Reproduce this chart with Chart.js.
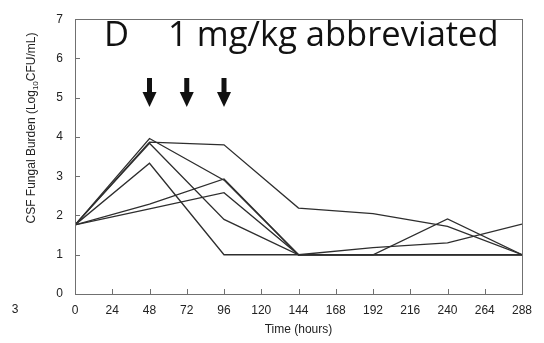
<!DOCTYPE html>
<html>
<head>
<meta charset="utf-8">
<script src="https://cdn.jsdelivr.net/npm/chart.js@4.4.0/dist/chart.umd.min.js"></script>
<style>
  html, body { margin: 0; padding: 0; background: #fff; }
  #wrap { width: 544px; height: 343px; position: relative; }
</style>
</head>
<body>
<div id="wrap"><canvas id="chart"></canvas></div>
<script>
// sampling times (hours)
const hours = [0, 48, 96, 144, 192, 240, 288];

// CSF fungal burden, log10 CFU/mL, one array per animal
const animal1 = [1.76, 3.87, 3.80, 2.19, 2.05, 1.72, 1.00];
const animal2 = [1.76, 3.96, 2.90, 1.00, 1.00, 1.91, 1.00];
const animal3 = [1.76, 3.84, 1.90, 1.00, 1.18, 1.30, 1.78];
const animal4 = [1.76, 3.33, 1.00, 1.00, 1.00, 1.00, 1.00];
const animal5 = [1.76, 2.29, 2.93, 1.00, 1.00, 1.00, 1.00];
const animal6 = [1.76, 2.17, 2.58, 1.00, 1.00, 1.00, 1.00];

// dosing times shown with arrows
const doseTimes = [48, 72, 96];

const xTicks = [0, 24, 48, 72, 96, 120, 144, 168, 192, 216, 240, 264, 288];
const yTicks = [0, 1, 2, 3, 4, 5, 6, 7];

const FONT = '"Liberation Sans", Arial, sans-serif';

function toPoints(values) {
    return hours.map((h, i) => ({ x: h, y: values[i] }));
}

const allSeries = [animal1, animal2, animal3, animal4, animal5, animal6];

// Frame, inward ticks, titles and dose arrows
const decorations = {
    id: 'decorations',
    afterDraw(chart) {
        const ctx = chart.ctx;
        const area = chart.chartArea;
        const xs = chart.scales.x;
        const ys = chart.scales.y;
        ctx.save();

        // box
        ctx.strokeStyle = '#707070';
        ctx.lineWidth = 1;
        ctx.strokeRect(Math.round(area.left) + 0.5, Math.round(area.top) + 0.5,
            Math.round(area.right - area.left), Math.round(area.bottom - area.top));

        // inward ticks
        ctx.beginPath();
        xTicks.forEach(v => {
            const px = Math.round(xs.getPixelForValue(v)) + 0.5;
            ctx.moveTo(px, area.bottom);
            ctx.lineTo(px, area.bottom - 5);
        });
        yTicks.forEach(v => {
            const py = Math.round(ys.getPixelForValue(v)) + 0.5;
            ctx.moveTo(area.left, py);
            ctx.lineTo(area.left + 5, py);
        });
        ctx.stroke();

        // panel title
        ctx.fillStyle = '#111';
        ctx.textBaseline = 'alphabetic';
        ctx.textAlign = 'left';
        ctx.font = '34.5px "Open Sans", "Noto Sans", sans-serif';
        ctx.fillText('D', 104, 46);
        ctx.fillText('1 mg/kg abbreviated', 168, 46);

        // dose arrows
        doseTimes.forEach(t => {
            const px = xs.getPixelForValue(t);
            ctx.fillRect(px - 2.5, 78, 5, 16);
            ctx.beginPath();
            ctx.moveTo(px - 7, 92);
            ctx.lineTo(px + 7, 92);
            ctx.lineTo(px, 107);
            ctx.closePath();
            ctx.fill();
        });

        // x title
        ctx.fillStyle = '#222';
        ctx.font = '12px ' + FONT;
        ctx.textAlign = 'center';
        ctx.textBaseline = 'middle';
        ctx.fillText('Time (hours)', (area.left + area.right) / 2, 330);

        // leftover label from neighbouring panel
        ctx.fillText('3', 15, 310);

        // y title with subscript
        ctx.translate(31, 128);
        ctx.rotate(-Math.PI / 2);
        const partA = 'CSF Fungal Burden (Log';
        const partB = '10';
        const partC = 'CFU/mL)';
        ctx.font = '12px ' + FONT;
        const wA = ctx.measureText(partA).width;
        const wC = ctx.measureText(partC).width;
        ctx.font = '8px ' + FONT;
        const wB = ctx.measureText(partB).width;
        const total = wA + wB + wC;
        let cx = -total / 2;
        ctx.textAlign = 'left';
        ctx.textBaseline = 'alphabetic';
        ctx.font = '12px ' + FONT;
        ctx.fillText(partA, cx, 4);
        cx += wA;
        ctx.font = '8px ' + FONT;
        ctx.fillText(partB, cx, 7);
        cx += wB;
        ctx.font = '12px ' + FONT;
        ctx.fillText(partC, cx, 4);

        ctx.restore();
    }
};

const chart = new Chart(document.getElementById('chart'), {
    type: 'line',
    data: {
        datasets: allSeries.map((s, i) => ({
            label: 'Animal ' + (i + 1),
            data: toPoints(s),
            borderColor: '#2e2e2e',
            borderWidth: 1.3,
            pointRadius: 0,
            tension: 0,
            fill: false
        }))
    },
    options: {
        responsive: true,
        maintainAspectRatio: false,
        animation: false,
        layout: { padding: { top: 7, right: 22, left: 0, bottom: 0 } },
        plugins: {
            legend: { display: false },
            tooltip: { enabled: false }
        },
        scales: {
            x: {
                type: 'linear',
                min: 0,
                max: 288,
                afterBuildTicks: axis => { axis.ticks = xTicks.map(v => ({ value: v })); },
                ticks: { color: '#222', font: { family: FONT, size: 12 }, padding: 9, maxRotation: 0, autoSkip: false },
                grid: { display: false, drawTicks: false },
                border: { display: false },
                afterFit: axis => { axis.height = 49; }
            },
            y: {
                min: 0,
                max: 7,
                afterBuildTicks: axis => { axis.ticks = yTicks.map(v => ({ value: v })); },
                ticks: { color: '#222', font: { family: FONT, size: 12 }, padding: 12 },
                grid: { display: false, drawTicks: false },
                border: { display: false },
                afterFit: axis => { axis.width = 75; }
            }
        }
    },
    plugins: [decorations]
});
</script>
</body>
</html>
